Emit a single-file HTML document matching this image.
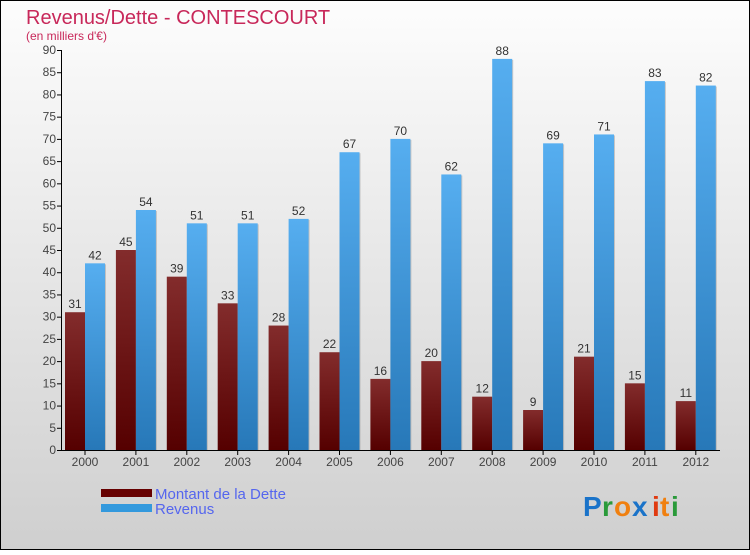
<!DOCTYPE html>
<html><head><meta charset="utf-8"><style>
html,body{margin:0;padding:0}
body{width:750px;height:550px;overflow:hidden;font-family:"Liberation Sans",sans-serif}
</style></head><body>
<svg id="chart" width="750" height="550" xmlns="http://www.w3.org/2000/svg">
<defs>
<linearGradient id="bg" x1="0" y1="0" x2="0" y2="1"><stop offset="0" stop-color="#fdfdfd"/><stop offset="1" stop-color="#cfcfcf"/></linearGradient>
<linearGradient id="gd" x1="0" y1="0" x2="0" y2="1"><stop offset="0" stop-color="#832c2c"/><stop offset="1" stop-color="#550000"/></linearGradient>
<linearGradient id="gr" x1="0" y1="0" x2="0" y2="1"><stop offset="0" stop-color="#56aef0"/><stop offset="1" stop-color="#2778b8"/></linearGradient>
</defs>
<rect x="0.5" y="0.5" width="749" height="549" fill="url(#bg)" stroke="#000"/>
<text x="26" y="24" font-size="20" fill="#c8285a" font-family="Liberation Sans, sans-serif">Revenus/Dette - CONTESCOURT</text>
<text x="26" y="40" font-size="12" fill="#c8285a">(en milliers d'€)</text>
<g id="axes"></g>
<g id="bars"></g>
<rect x="101" y="489" width="51" height="8" fill="#660000"/>
<rect x="101" y="504" width="51" height="8" fill="#3399dd"/>
<text x="155" y="499" font-size="15" fill="#5566ee">Montant de la Dette</text>
<text x="155" y="514" font-size="15" fill="#5566ee">Revenus</text>
<g font-size="28" font-weight="bold">
<text x="583" y="516" fill="#1a73c9">P</text><text x="602" y="516" fill="#2a9a3a">r</text><text x="614" y="516" fill="#f08010">o</text><text x="632" y="516" fill="#1a73c9">x</text><text x="652" y="516" fill="#e03a10">i</text><text x="660" y="516" fill="#f08010">t</text><text x="671" y="516" fill="#2a9a3a">i</text>
</g>
</svg>
<script>
const years=["2000","2001","2002","2003","2004","2005","2006","2007","2008","2009","2010","2011","2012"];
const dette=[31,45,39,33,28,22,16,20,12,9,21,15,11];
const revenus=[42,54,51,51,52,67,70,62,88,69,71,83,82];
const yTicks=[0,5,10,15,20,25,30,35,40,45,50,55,60,65,70,75,80,85,90];
const NS="http://www.w3.org/2000/svg";
const y0=450,pxPer=400/90,x0=85,step=50.9,bw=20;
const Y=v=>y0-v*pxPer, X=i=>x0+i*step;
function mk(tag,attrs,parent,txt){const e=document.createElementNS(NS,tag);for(const k in attrs)e.setAttribute(k,attrs[k]);if(txt!==undefined)e.textContent=txt;parent.appendChild(e);return e;}
const ax=document.getElementById('axes'),bars=document.getElementById('bars');
let l=mk('line',{x1:61.5,y1:Y(90),x2:61.5,y2:y0,stroke:'#000'},ax);


l=mk('line',{x1:61.5,y1:y0+0.5,x2:720,y2:y0+0.5,stroke:'#000'},ax);


yTicks.forEach(v=>{
  const t=mk('line',{x1:57,y1:Y(v)+0.5,x2:62,y2:Y(v)+0.5,stroke:'#000'},ax);
  
  
  const tx=mk('text',{x:56,y:Y(v)+4,'font-size':12,fill:'#444','text-anchor':'end'},ax,String(v));
  
  
});
years.forEach((yr,i)=>{
  const cx=X(i);
  const t=mk('line',{x1:cx,y1:y0,x2:cx,y2:y0+5,stroke:'#000'},ax);
  
  
  const tx=mk('text',{x:cx,y:y0+16,'font-size':12,fill:'#444','text-anchor':'middle'},ax,yr);
  
  
  const d=dette[i],r=revenus[i];
  mk('rect',{x:cx-bw+1,y:Y(d)+1,width:bw,height:y0-Y(d)-1,fill:'#999',opacity:0.5},bars);
  const b1=mk('rect',{x:cx-bw,y:Y(d),width:bw,height:y0-Y(d),fill:'url(#gd)'},bars);
  
  
  mk('rect',{x:cx+1,y:Y(r)+1,width:bw,height:y0-Y(r)-1,fill:'#999',opacity:0.5},bars);
  const b2=mk('rect',{x:cx,y:Y(r),width:bw,height:y0-Y(r),fill:'url(#gr)'},bars);
  
  
  const l1=mk('text',{x:cx-bw/2,y:Y(d)-4,'font-size':12,fill:'#333','text-anchor':'middle'},bars,String(d));
  
  
  const l2=mk('text',{x:cx+bw/2,y:Y(r)-4,'font-size':12,fill:'#333','text-anchor':'middle'},bars,String(r));
  
  
});
</script>
</body></html>
